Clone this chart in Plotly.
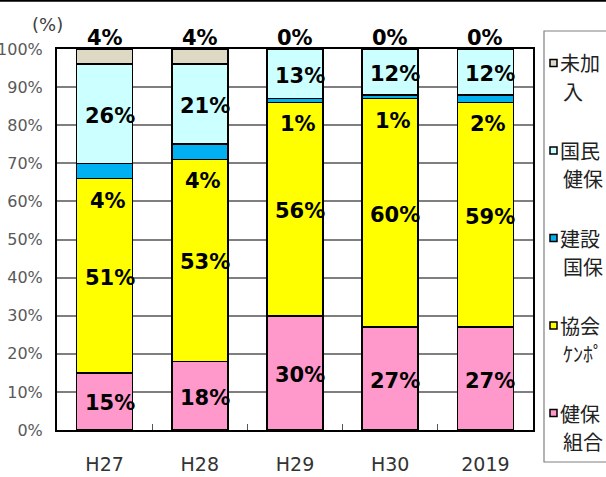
import plotly.graph_objects as go

categories = ["H27", "H28", "H29", "H30", "2019"]
kenpo_kumiai = [15, 18, 30, 27, 27]      # 健保組合
kyokai = [51, 53, 56, 60, 59]            # 協会ケンポ
kensetsu = [4, 4, 1, 1, 2]               # 建設国保
kokumin = [26, 21, 13, 12, 12]           # 国民健保
mikanyu = [4, 4, 0, 0, 0]                # 未加入

series_names = [["健保", "組合"], ["協会", "ｹﾝﾎﾟ"], ["建設", "国保"], ["国民", "健保"], ["未加", "入"]]
series_values = [kenpo_kumiai, kyokai, kensetsu, kokumin, mikanyu]
series_colors = ["#FF99CC", "#FFFF00", "#00B0F0", "#CCFFFF", "#DDD9C4"]
y_ticks = list(range(0, 101, 10))

W, H = 606, 477
ML, MR, MT, MB = 57, 73, 49, 47
PW, PH = W - ML - MR, H - MT - MB


def px_x(p):
    return (p - ML) / PW


def px_y(p):
    return (H - MB - p) / PH


FONT = "DejaVu Sans"
fig = go.Figure()
for i, (name, vals, col) in enumerate(zip(series_names, series_values, series_colors)):
    fig.add_trace(go.Bar(
        x=categories, y=vals, name="".join(name),
        marker=dict(color=col, line=dict(color="black", width=1.6)),
        hoverinfo="skip", showlegend=False,
    ))

annotations = []
lab_font = dict(family=FONT, size=21, color="black")
for j, c in enumerate(categories):
    base = 0
    for i, vals in enumerate(series_values):
        v = vals[j]
        txt = f"<b>{v}%</b>"
        if i in (0, 1, 3):
            annotations.append(dict(x=j, y=base + v / 2, xref="x", yref="y", text=txt,
                                    showarrow=False, font=lab_font, xshift=5, yshift=-2))
        elif i == 2:
            annotations.append(dict(x=j, y=base, xref="x", yref="y", text=txt,
                                    showarrow=False, font=lab_font, xshift=3, yshift=-22))
        else:
            annotations.append(dict(x=j, y=100, xref="x", yref="y", text=txt, yanchor="bottom",
                                    showarrow=False, font=lab_font, yshift=-3))
        base += v

annotations.append(dict(x=px_x(47), y=px_y(25), xref="paper", yref="paper", text="(%)",
                        xanchor="center", yanchor="middle",
                        showarrow=False, font=dict(family=FONT, size=18, color="#404040")))

# manual legend (reversed order, top = last series)
shapes = [
    dict(type="line", xref="paper", yref="paper", x0=px_x(-10), x1=px_x(W + 10),
         y0=px_y(0.8), y1=px_y(0.8), line=dict(color="black", width=2)),
    dict(type="rect", xref="paper", yref="paper", x0=px_x(544), x1=px_x(W + 20),
         y0=px_y(31), y1=px_y(462), line=dict(color="#808080", width=1.2), fillcolor="white",
         layer="below"),
]
leg_font = dict(family="Noto Sans CJK JP", size=20, color="#222")
for k, i in enumerate(reversed(range(len(series_names)))):
    yc = 63 + k * 87.5
    shapes.append(dict(type="rect", xref="paper", yref="paper",
                       x0=px_x(550), x1=px_x(557), y0=px_y(yc - 3.5), y1=px_y(yc + 3.5),
                       fillcolor=series_colors[i], line=dict(color="black", width=1.5)))
    for li, line in enumerate(series_names[i]):
        annotations.append(dict(x=px_x(558 if li == 0 else 561), y=px_y(yc + li * 28),
                                xref="paper", yref="paper", xanchor="left", yanchor="middle",
                                text=line, showarrow=False, font=leg_font))

fig.update_layout(
    width=W, height=H,
    margin=dict(l=ML, r=MR, t=MT, b=MB, autoexpand=False),
    barmode="stack", bargap=0.41,
    plot_bgcolor="white", paper_bgcolor="white",
    font=dict(family=FONT),
    annotations=annotations,
    shapes=shapes,
    showlegend=False,
)
fig.update_xaxes(
    type="category", range=[-0.5, len(categories) - 0.5],
    showline=True, linecolor="black", linewidth=2, mirror=True,
    ticks="inside", tickson="boundaries", ticklen=6, tickcolor="#555",
    tickfont=dict(family=FONT, size=19, color="#333"), tickangle=0,
    ticklabelstandoff=16,
    showgrid=False, automargin=False,
)
fig.update_yaxes(
    range=[0, 100], tickvals=y_ticks, ticktext=[f"{t}%" for t in y_ticks],
    showline=True, linecolor="black", linewidth=2, mirror=True,
    showgrid=True, gridcolor="#7f7f7f", gridwidth=1.5,
    tickfont=dict(family=FONT, size=16, color="#595959"),
    ticklabelstandoff=9,
    ticks="", zeroline=False, automargin=False,
)
fig.write_html("out.html", config={"displayModeBar": False},
               post_script="document.body.style.margin='0';document.body.style.padding='0';")
